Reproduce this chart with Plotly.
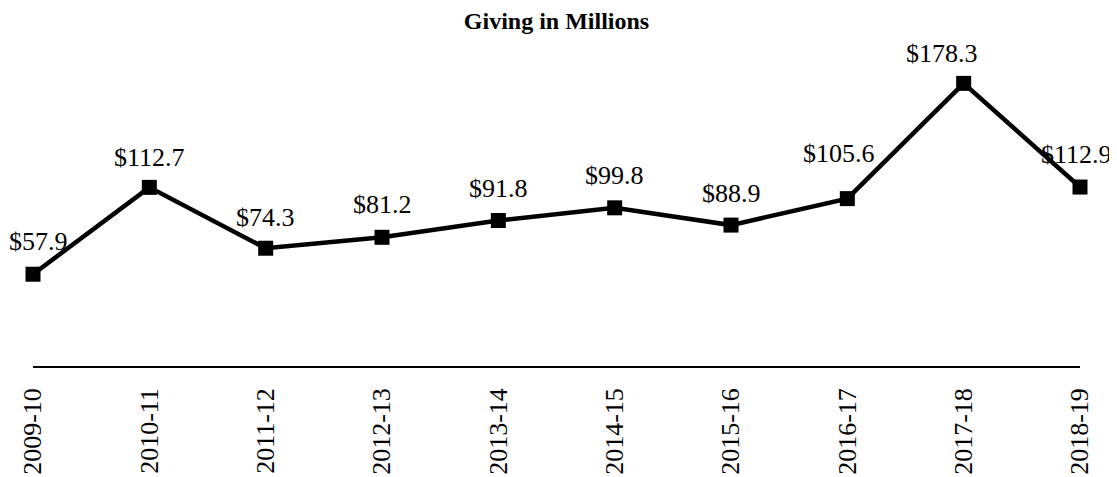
import plotly.graph_objects as go

years = ["2009-10", "2010-11", "2011-12", "2012-13", "2013-14",
         "2014-15", "2015-16", "2016-17", "2017-18", "2018-19"]
giving = [57.9, 112.7, 74.3, 81.2, 91.8, 99.8, 88.9, 105.6, 178.3, 112.9]
labels = ["$" + f"{v:.1f}" for v in giving]

# label placement (pixel shifts from each point), styling only
label_dx = [5, 0, 0, 0, 0, 0, 0, -8, -22, -4]
label_dy = [33, 30, 31, 33, 32, 32, 32, 45, 30, 33]

fig = go.Figure()
fig.add_trace(go.Scatter(
    x=years, y=giving, mode="lines+markers",
    line=dict(color="black", width=4.5),
    marker=dict(symbol="square", size=15, color="black"),
    cliponaxis=False, hoverinfo="skip",
))

for yr, v, lab, dx, dy in zip(years, giving, labels, label_dx, label_dy):
    fig.add_annotation(
        x=yr, y=v, text=lab, showarrow=False,
        xanchor="center", yanchor="middle", xshift=dx, yshift=dy,
        font=dict(family="Liberation Serif", size=26, color="black"),
    )

fig.update_layout(
    width=1109, height=469,
    paper_bgcolor="white", plot_bgcolor="white",
    margin=dict(l=25, r=37, t=41, b=111, autoexpand=False),
    showlegend=False,
    title=dict(text="<b>Giving in Millions</b>", x=0.5, xanchor="center",
               xref="paper", yref="container",
               y=1, yanchor="top", pad=dict(t=4, b=0),
               font=dict(family="Liberation Serif", size=24, color="black")),
    font=dict(family="Liberation Serif", color="black"),
)
fig.update_xaxes(
    type="category", range=[0, 9], showgrid=False, zeroline=False,
    showline=True, linecolor="black", linewidth=1.5, ticks="",
    tickangle=-90, tickfont=dict(family="Liberation Serif", size=26, color="black"),
    ticklabelstandoff=10, automargin=False,
)
fig.update_yaxes(range=[0, 200], showgrid=False, zeroline=False,
                 showline=False, showticklabels=False, ticks="", automargin=False)

fig.write_html("out.html")
